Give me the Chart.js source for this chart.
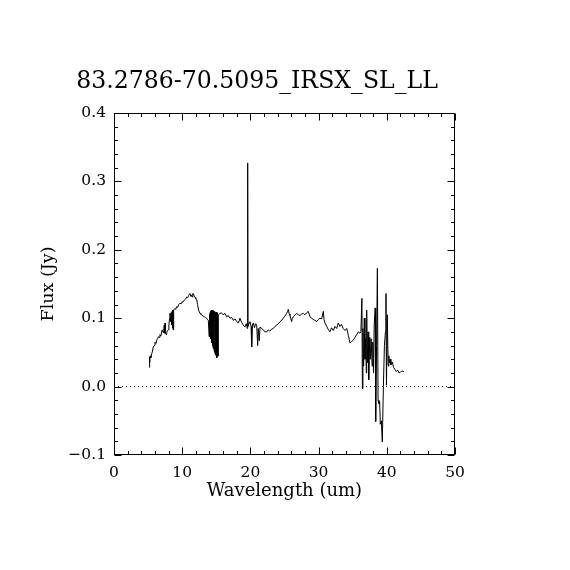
<!DOCTYPE html>
<html><head><meta charset="utf-8">
<script src="https://cdn.jsdelivr.net/npm/chart.js@4"></script>
<style>html,body{margin:0;padding:0;background:#fff}#wrap{width:570px;height:570px;position:relative}</style>
</head><body><div id="wrap"><canvas id="c"></canvas></div>
<script>
const titleText = '83.2786-70.5095_IRSX_SL_LL';
const xTitle = 'Wavelength (um)';
const yTitle = 'Flux (Jy)';

const wavelength = [
5.18,5.20,5.25,5.30,5.40,5.53,5.65,5.76,5.90,6.01,6.15,6.26,6.40,6.50,6.62,6.74,6.88,6.99,7.08,7.20,
7.30,7.38,7.45,7.48,7.55,7.65,7.73,7.85,7.96,8.05,8.15,8.21,8.30,8.38,8.45,8.52,8.60,8.65,8.70,8.75,
8.90,9.05,9.19,9.35,9.50,9.68,9.85,10.00,10.16,10.35,10.50,10.66,10.80,10.95,11.05,11.14,11.25,11.35,11.45,11.55,
11.63,11.75,11.90,12.00,12.13,12.25,12.40,12.50,12.61,12.75,12.90,13.09,13.25,13.40,13.59,13.70,13.83,13.95,
14.00,14.04,14.08,14.12,14.16,14.20,14.24,14.28,14.32,14.36,14.40,14.44,14.48,14.52,14.56,14.60,14.64,14.68,14.72,14.76,
14.80,14.84,14.88,14.92,14.96,15.00,15.04,15.08,15.12,15.16,15.20,15.25,15.30,
15.54,15.75,16.00,16.28,16.52,16.75,17.00,17.25,17.50,17.75,18.00,18.25,18.47,18.70,18.96,19.20,19.40,19.55,19.60,19.65,
19.80,19.94,20.10,20.19,20.30,20.43,20.60,20.75,20.92,21.07,21.15,21.30,21.41,21.65,21.90,22.14,22.39,22.62,22.85,23.10,
23.36,23.60,23.86,24.10,24.34,24.60,24.82,25.05,25.32,25.45,25.56,25.70,25.80,26.05,26.15,26.30,26.55,26.80,27.05,27.27,
27.50,27.76,28.00,28.25,28.49,28.74,29.00,29.22,29.45,29.72,29.95,30.20,30.45,30.69,30.80,30.94,31.19,31.45,31.67,31.90,
32.16,32.40,32.65,32.89,33.14,33.35,33.60,33.87,34.12,34.36,34.60,34.85,35.09,35.35,35.59,35.83,36.07,36.20,
36.35,36.42,36.50,36.60,36.70,36.80,36.90,37.00,37.05,37.15,37.25,37.35,37.50,37.60,37.70,37.85,37.95,38.05,38.15,38.30,
38.37,38.50,38.62,38.72,38.85,38.95,39.05,39.20,39.34,39.50,39.65,39.80,39.88,39.95,40.07,40.20,40.30,40.40,40.50,40.60,
40.80,41.00,41.20,41.40,41.60,41.80,42.00,42.20,42.50
];
const flux = [
0.028,0.043,0.035,0.045,0.042,0.048,0.052,0.058,0.060,0.065,0.063,0.068,0.070,0.073,0.072,0.076,0.074,0.080,0.083,0.079,
0.085,0.090,0.078,0.093,0.080,0.076,0.079,0.082,0.083,0.090,0.100,0.107,0.095,0.108,0.090,0.110,0.085,0.112,0.083,0.112,
0.114,0.113,0.117,0.116,0.120,0.122,0.121,0.124,0.124,0.127,0.128,0.131,0.130,0.133,0.135,0.136,0.132,0.134,0.131,0.136,
0.136,0.133,0.130,0.128,0.127,0.120,0.112,0.109,0.107,0.106,0.104,0.103,0.102,0.101,0.100,0.098,0.097,0.073,
0.105,0.075,0.108,0.072,0.110,0.070,0.111,0.066,0.112,0.064,0.111,0.060,0.112,0.058,0.110,0.055,0.111,0.053,0.109,0.050,
0.110,0.048,0.108,0.046,0.109,0.044,0.107,0.042,0.108,0.043,0.106,0.045,0.105,
0.107,0.108,0.105,0.107,0.102,0.104,0.100,0.101,0.097,0.099,0.095,0.093,0.100,0.094,0.090,0.087,0.092,0.085,0.327,0.088,
0.093,0.095,0.088,0.058,0.090,0.093,0.086,0.092,0.090,0.060,0.085,0.067,0.087,0.085,0.083,0.080,0.080,0.083,0.081,0.084,
0.085,0.088,0.090,0.092,0.095,0.097,0.100,0.103,0.107,0.110,0.113,0.106,0.104,0.095,0.100,0.102,0.105,0.107,0.105,0.104,
0.106,0.107,0.105,0.108,0.110,0.102,0.100,0.098,0.097,0.095,0.098,0.100,0.099,0.110,0.098,0.093,0.088,0.083,0.080,0.086,
0.082,0.088,0.085,0.093,0.088,0.091,0.085,0.082,0.085,0.075,0.064,0.066,0.068,0.072,0.076,0.080,0.078,0.080,
0.129,-0.003,0.085,0.030,0.100,0.040,0.070,0.020,0.112,0.035,0.080,0.010,0.072,0.040,0.070,0.030,0.065,0.020,0.090,0.115,
-0.051,0.060,0.173,-0.020,-0.025,-0.022,-0.055,-0.050,-0.081,0.000,0.060,0.080,0.136,0.002,0.105,0.030,0.045,0.035,0.040,0.032,
0.036,0.028,0.025,0.022,0.024,0.020,0.021,0.023,0.022
];

const zeroLineX = [0, 50];
const zeroLineY = [0, 0];

const xTicks = [0, 10, 20, 30, 40, 50];
const xTickLabels = ['0', '10', '20', '30', '40', '50'];
const xMinorTicks = [2,4,6,8,12,14,16,18,22,24,26,28,32,34,36,38,42,44,46,48];
const yTicks = [-0.1, 0.0, 0.1, 0.2, 0.3, 0.4];
const yTickLabels = ['\u22120.1', '0.0', '0.1', '0.2', '0.3', '0.4'];
const yMinorTicks = [-0.08,-0.06,-0.04,-0.02,0.02,0.04,0.06,0.08,0.12,0.14,0.16,0.18,0.22,0.24,0.26,0.28,0.32,0.34,0.36,0.38];

const FONT = 'DejaVu Serif';

const framePlugin = {
  id: 'frameTicks',
  afterDatasetsDraw(chart) {
    const {ctx, chartArea: a, scales: {x, y}} = chart;
    const L = Math.round(a.left) + 0.5, R = Math.round(a.right) - 0.5;
    const T = Math.round(a.top) + 0.5, B = Math.round(a.bottom) - 0.5;
    ctx.save();
    ctx.strokeStyle = '#000';
    ctx.lineWidth = 1;
    ctx.strokeRect(L, T, R - L, B - T);
    ctx.beginPath();
    const tx = (v, len) => {
      const p = Math.round(x.getPixelForValue(v)) + 0.5;
      ctx.moveTo(p, B); ctx.lineTo(p, B - len);
      ctx.moveTo(p, T); ctx.lineTo(p, T + len);
    };
    const ty = (v, len) => {
      const p = Math.round(y.getPixelForValue(v)) + 0.5;
      ctx.moveTo(L, p); ctx.lineTo(L + len, p);
      ctx.moveTo(R, p); ctx.lineTo(R - len, p);
    };
    xTicks.forEach(v => tx(v, 7));
    xMinorTicks.forEach(v => tx(v, 3.5));
    yTicks.forEach(v => ty(v, 7));
    yMinorTicks.forEach(v => ty(v, 3.5));
    ctx.stroke();
    ctx.restore();
  }
};

Chart.defaults.color = '#000';
Chart.defaults.font.family = FONT;

new Chart(document.getElementById('c'), {
  type: 'scatter',
  data: {
    datasets: [
      {
        data: wavelength.map((w, i) => ({x: w, y: flux[i]})),
        showLine: true, borderColor: '#000', borderWidth: 1, pointRadius: 0, tension: 0, fill: false
      },
      {
        data: zeroLineX.map((w, i) => ({x: w, y: zeroLineY[i]})),
        showLine: true, borderColor: '#000', borderWidth: 1, borderDash: [1, 3], pointRadius: 0, fill: false
      }
    ]
  },
  options: {
    responsive: true,
    maintainAspectRatio: false,
    animation: false,
    devicePixelRatio: 1,
    layout: {padding: {left: 0, right: 56, top: 68, bottom: 0}},
    plugins: {
      legend: {display: false},
      tooltip: {enabled: false},
      title: {
        display: true, text: titleText,
        font: {family: FONT, size: 23.6, weight: 'normal'},
        padding: {top: 0, bottom: 16.7}, color: '#000'
      }
    },
    scales: {
      x: {
        type: 'linear', position: 'bottom', min: 0, max: 50,
        afterBuildTicks(s) { s.ticks = xTicks.map(v => ({value: v})); },
        afterFit(s) { s.height = 115; },
        ticks: {
          callback: (v, i) => xTickLabels[i], font: {family: FONT, size: 15.5},
          padding: 9, maxRotation: 0, autoSkip: false, color: '#000'
        },
        grid: {display: false, drawTicks: false},
        border: {display: false},
        title: {display: true, text: xTitle, font: {family: FONT, size: 18}, padding: {top: 0, bottom: 68.2}, color: '#000'}
      },
      y: {
        type: 'linear', position: 'left', min: -0.1, max: 0.4,
        afterBuildTicks(s) { s.ticks = yTicks.map(v => ({value: v})); },
        afterFit(s) { s.width = 114; },
        ticks: {
          callback: (v, i) => yTickLabels[i], font: {family: FONT, size: 15.5},
          padding: 8, autoSkip: false, color: '#000'
        },
        grid: {display: false, drawTicks: false},
        border: {display: false},
        title: {display: true, text: yTitle, font: {family: FONT, size: 17.5}, padding: {top: 37.5, bottom: 0}, color: '#000'}
      },
      yRight: {
        type: 'linear', position: 'right', min: 0, max: 1,
        afterFit(s) { s.width = 59; },
        ticks: {display: false},
        grid: {display: false, drawTicks: false},
        border: {display: false}
      }
    }
  },
  plugins: [framePlugin]
});
</script>
</body></html>
